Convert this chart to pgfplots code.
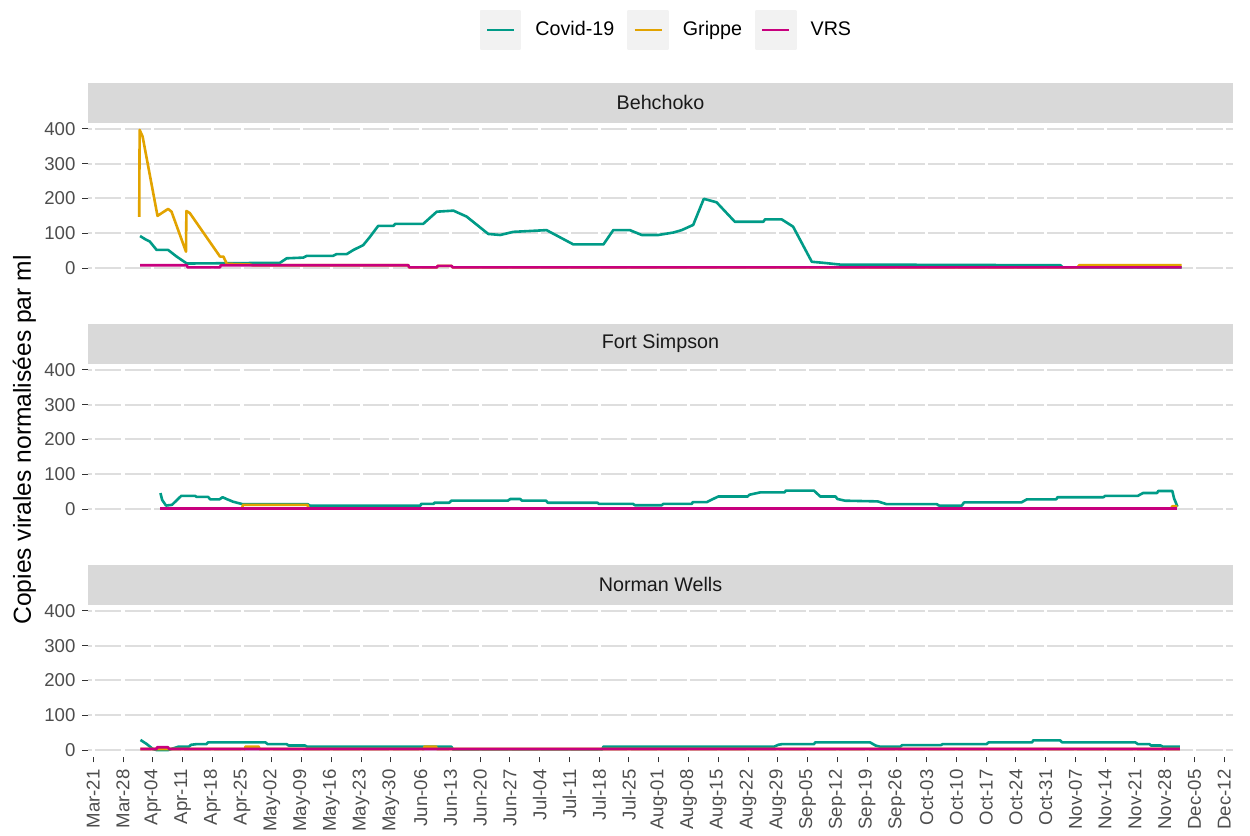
\documentclass[border=0pt]{standalone}
\usepackage{fontspec}
\setmainfont{Liberation Sans}
\usepackage{pgfplots}
\pgfplotsset{compat=1.18}

\definecolor{covid}{HTML}{009B87}
\definecolor{grippe}{HTML}{E2A300}
\definecolor{vrs}{HTML}{C8007E}
\definecolor{strip}{HTML}{D9D9D9}
\definecolor{gridc}{HTML}{DEDEDE}
\definecolor{labc}{HTML}{4D4D4D}
\definecolor{legbg}{HTML}{F2F2F2}

% days since Mar-21
\pgfplotsset{
  panel/.style={
    scale only axis, width=572.5pt, height=76pt,
    xmin=-1.247, xmax=268.07, ymin=-20, ymax=417,
    ytick={0,100,200,300,400}, xtick=\empty,
    axis line style={draw=none},
    ymajorgrids,
    major grid style={gridc, line width=1pt, dash pattern=on 13.28pt off 1.6pt, dash phase=11.43pt},
    tick align=outside, tick pos=left, major tick length=2.75pt,
    tick style={color=black!80, line width=0.5pt},
    /pgf/number format/assume math mode=true,
    ticklabel style={font=\fontsize{9.3pt}{11pt}\selectfont, text=labc},
    every axis title/.style={at={(0.5,1)}, anchor=south, fill=strip,
      minimum width=572.5pt, minimum height=20pt, inner sep=0pt,
      text=black!90, font=\fontsize{9.85pt}{11pt}\selectfont},
    every axis plot/.append style={line width=1.3pt, line join=round},
  }
}

\begin{document}
\begin{tikzpicture}
\useasboundingbox (0,0) rectangle (625pt,418pt);

% Behchoko
\begin{axis}[panel, at={(44pt,280.5pt)}, title={Behchoko},
  legend columns=3,
  legend style={at={(0.5,1)}, anchor=center, xshift=3.5pt, yshift=46.5pt, draw=none, fill=none,
    font=\fontsize{9.85pt}{11pt}\selectfont,
    /tikz/every odd column/.append style={column sep=5pt},
    /tikz/every even column/.append style={column sep=4.5pt}},
  legend image code/.code={\fill[legbg] (0pt,-9.5pt) rectangle (19.5pt,9.5pt);
    \draw (3pt,0pt) -- (16.5pt,0pt);}]
\addplot[covid] coordinates {
(11.0,92) (12.2,83) (13.3,76) (14.9,52) (17.6,52) (19.6,33) (22.0,13) (43.9,15)
(45.5,28) (49.4,30) (50.2,35) (56.4,35) (57.2,40) (59.6,40) (61.2,52) (63.5,66)
(65.1,90) (67.0,121) (70.6,121) (71.0,127) (77.6,127) (80.8,162) (84.7,165)
(87.8,148) (92.9,98) (95.7,95) (98.8,104) (106.6,109) (112.9,68) (120.0,68)
(122.3,109) (126.2,109) (129.0,95) (132.9,95) (136.4,102) (138.4,109) (141.1,124)
(143.6,199) (146.6,189) (150.9,133) (157.6,133) (158.0,140) (161.9,140) (164.6,119)
(169.0,18) (171.7,15) (175.6,10) (227.5,8) (228,2) (256,2)};
\addlegendentry{Covid-19}
\addplot[grippe] coordinates {
(10.8,147) (10.9,397) (11.6,378) (15.1,150) (16.1,158) (17.6,170) (18.4,162)
(21.8,47) (21.9,164) (22.7,158) (29.8,33) (30.6,33) (31.4,12) (36.9,10) (37.5,8)
(74.1,8) (74.3,2) (80.8,2) (81,6) (84.3,6) (84.5,2)
(231.5,2) (231.9,8) (256,8)};
\addlegendentry{Grippe}
\addplot[vrs] coordinates {
(11,8) (22,8) (22.2,2) (29.8,2) (30,8) (74.1,8) (74.3,2) (80.8,2) (81,6) (84.3,6)
(84.5,2) (256,2)};
\addlegendentry{VRS}
\end{axis}

% Fort Simpson
\begin{axis}[panel, at={(44pt,160pt)}, title={Fort Simpson},
  ylabel={Copies virales normalisées par ml},
  every axis y label/.style={at={(axis description cs:-0.0555,0.5)}, rotate=90,
    anchor=center, font=\fontsize{12.3pt}{14pt}\selectfont}]
\addplot[covid] coordinates {
(15.8,46) (16.2,26) (17.1,10) (18.5,12) (20.7,38) (23.9,38) (24.3,35) (27.0,35)
(27.5,28) (29.7,28) (30.4,34) (31.5,28) (32.9,21) (35.1,14) (50.4,14) (50.9,10)
(77.0,10) (77.1,15) (80.1,15) (80.2,18) (83.7,18) (84.2,24) (97.5,24) (98.1,29)
(100.4,29) (100.8,24) (106.5,24) (106.9,18) (118.6,18) (118.9,15) (126.9,15)
(127.4,11) (133.7,11) (134.1,15) (140.8,15) (141.0,20) (144.3,20) (145.8,29)
(147.0,36) (153.9,36) (154.3,41) (156.9,48) (162.6,48) (162.9,53) (169.5,53)
(171.0,36) (174.6,36) (175.0,29) (176.8,24) (184.5,22) (186.6,14) (198.4,14)
(198.9,10) (204.3,10) (204.8,19) (218.3,19) (219.6,28) (226.5,28) (226.8,34)
(237.6,34) (238.0,38) (245.7,38) (246.9,46) (250.2,46) (250.5,52) (253.8,52)
(254.2,31) (255.0,7)};
\addplot[grippe] coordinates {
(15.8,2) (35.0,2) (35.2,12) (50.4,12) (50.6,2) (253.5,2) (253.8,8) (255,8)};
\addplot[vrs] coordinates {(15.8,2) (255,2)};
\end{axis}

% Norman Wells
\begin{axis}[panel, at={(44pt,39.5pt)}, title={Norman Wells},
  xtick={0,7,...,266},
  xticklabels={Mar-21,Mar-28,Apr-04,Apr-11,Apr-18,Apr-25,May-02,May-09,May-16,May-23,May-30,Jun-06,Jun-13,Jun-20,Jun-27,Jul-04,Jul-11,Jul-18,Jul-25,Aug-01,Aug-08,Aug-15,Aug-22,Aug-29,Sep-05,Sep-12,Sep-19,Sep-26,Oct-03,Oct-10,Oct-17,Oct-24,Oct-31,Nov-07,Nov-14,Nov-21,Nov-28,Dec-05,Dec-12},
  xticklabel style={rotate=90, anchor=east}]
\addplot[covid] coordinates {
(11.1,29) (12.6,17) (14.0,3) (14.9,0) (17.6,0) (20.1,10) (22.5,10) (23.0,15)
(24.3,17) (26.6,17) (27.0,22) (40.5,22) (41.0,17) (45.5,17) (45.9,13) (49.8,13)
(50.2,10) (84.2,10) (84.6,2) (119.7,2) (120.0,10) (160.2,10) (161.1,15) (162.0,17)
(169.5,17) (169.8,22) (182.7,22) (184.0,13) (184.9,10) (189.9,10) (190.2,14)
(199.3,14) (199.8,17) (210.1,17) (210.6,22) (220.8,22) (221.1,28) (227.4,28)
(227.9,22) (245.1,22) (245.7,17) (248.4,17) (248.8,13) (251.1,13) (251.5,10)
(255.6,10)};
\addplot[grippe] coordinates {
(11.1,3) (35.7,3) (35.8,10) (38.9,10) (39.1,3) (77.8,3) (77.9,10) (80.6,10)
(80.8,3) (255.6,3)};
\addplot[vrs] coordinates {
(11.1,3) (14.9,3) (15.0,8) (17.6,8) (17.8,3) (255.6,3)};
\end{axis}
\end{tikzpicture}
\end{document}
